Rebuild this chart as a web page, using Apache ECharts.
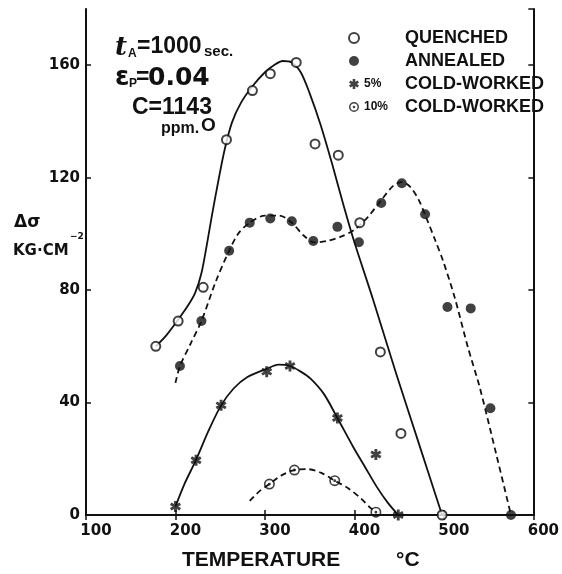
<!DOCTYPE html>
<html>
<head>
<meta charset="utf-8">
<script src="https://cdn.jsdelivr.net/npm/echarts@6/dist/echarts.min.js"></script>
<style>
html,body{margin:0;padding:0;background:#fff;}
#chart{width:562px;height:574px;}
</style>
</head>
<body>
<div id="chart"></div>
<script>
// axis ranges
var tempRange = [100, 600];
var sigmaRange = [0, 180];

// measured points: [temperature °C, delta sigma kg/cm2]
var quenchedPts = [[178,60],[203,69],[231,81],[257,133.5],[286,151],[306,157],[335,161],[356,132],[382,128],[406,104],[429,58],[452,29],[498,0]];
var annealedPts = [[205,53],[229,69],[260,94],[283,104],[306,105.5],[330,104.5],[354,97.5],[381,102.5],[405,97],[430,111],[453,118],[479,107],[504,74],[530,73.5],[552,38],[575,0]];
var cw5Pts = [[200,3],[223,19.5],[251,39],[302,51],[328,53],[381,34.5],[424,21.5],[449,0]];
var cw10Pts = [[305,11],[333,16],[378,12.2],[424,1]];

// hand drawn curves
var quenchedCurve = [[178,60],[190,64],[203,69.5],[214,74.5],[222,79],[229,86],[235,96],[241,107],[248,119],[255,130],[263,139.5],[273,146.5],[286,152.5],[300,157.5],[310,160],[320,161.5],[330,161],[340,157.5],[350,150],[362,139],[375,125],[388,110],[400,97],[421,76.5],[447,50],[473,24.5],[498,0]];
var annealedCurve = [[200,47],[205,53],[217,61],[229,69],[245,83],[260,94],[270,100],[283,104],[300,106.5],[316,106.5],[330,104],[343,99.5],[355,97],[370,97.5],[385,99],[400,101.5],[415,106],[430,112],[443,117],[453,118.5],[463,116.5],[472,112],[480,106],[490,98],[499,90.5],[512,77.5],[527,59.5],[540,45.5],[559,21],[575,0]];
var cw5Curve = [[200,3],[210,11],[223,19.6],[237,30],[251,39],[265,45],[280,49],[302,52],[315,53.5],[328,53],[340,51],[351,48.5],[366,43],[381,34.5],[399,24],[412,17],[425,10],[437,4.5],[449,0]];
var cw10Curve = [[283,5],[294,8.5],[305,11],[318,14],[333,16],[348,16.3],[363,15],[378,12.2],[393,9.5],[407,6],[418,2.5],[424,0.8]];

var legendNames = ['QUENCHED', 'ANNEALED', '5% COLD-WORKED', '10% COLD-WORKED'];

var ink = '#111';
var starPath = 'path://M-1.3,-5L1.3,-5L1.3,5L-1.3,5Z M-4.98,-1.37L-3.68,-3.62L4.98,1.37L3.68,3.62Z M3.68,-3.62L4.98,-1.37L-3.68,3.62L-4.98,1.37Z';
var ringPath = 'path://M0,-5A5,5 0 1,1 0,5A5,5 0 1,1 0,-5Z M0,-3.5A3.5,3.5 0 1,0 0,3.5A3.5,3.5 0 1,0 0,-3.5Z M0,-1.3A1.3,1.3 0 1,1 0,1.3A1.3,1.3 0 1,1 0,-1.3Z';

function txt(text, x, y, font) {
    return {type: 'text', x: x, y: y, z: 10,
        style: {text: text, font: font, fill: ink, align: 'left', verticalAlign: 'middle'}};
}

function curve(name, data, dashed) {
    return {
        name: name, type: 'line', data: data, smooth: 0.3, symbol: 'none', silent: true,
        lineStyle: {color: ink, width: 1.8, type: dashed ? [6, 4] : 'solid'},
        z: 2
    };
}

var axisLine = {show: true, lineStyle: {color: ink, width: 2}};
var tickIn = {show: true, inside: true, length: 5, lineStyle: {color: ink, width: 1.5}};
var tickFont = {color: ink, fontFamily: '"DejaVu Sans"', fontWeight: 'bold', fontSize: 15};

var myChart = echarts.init(document.getElementById('chart'));

var option = {
    backgroundColor: '#fff',
    animation: false,
    grid: {left: 86, right: 28, top: 9, bottom: 59},
    xAxis: [
        {type: 'value', min: tempRange[0], max: tempRange[1], interval: 100, position: 'bottom',
         axisLine: axisLine, axisTick: tickIn, splitLine: {show: false},
         axisLabel: Object.assign({margin: 9, padding: [0, 0, 0, 20]}, tickFont)},
        {type: 'value', min: tempRange[0], max: tempRange[1], interval: 100, position: 'top',
         axisLine: axisLine, axisTick: tickIn, splitLine: {show: false}, axisLabel: {show: false}}
    ],
    yAxis: [
        {type: 'value', min: sigmaRange[0], max: sigmaRange[1], interval: 40, position: 'left',
         axisLine: axisLine, axisTick: tickIn, splitLine: {show: false},
         axisLabel: Object.assign({margin: 6, showMaxLabel: false}, tickFont)},
        {type: 'value', min: sigmaRange[0], max: sigmaRange[1], interval: 40, position: 'right',
         axisLine: axisLine, axisTick: tickIn, splitLine: {show: false}, axisLabel: {show: false}}
    ],
    legend: {
        data: legendNames,
        orient: 'vertical', left: 343, top: 24,
        itemWidth: 10, itemHeight: 10, itemGap: 5,
        selectedMode: false,
        formatter: function (name) {
            var sp = name.indexOf(' ');
            var pre = name.charAt(0) >= '0' && name.charAt(0) <= '9' ? name.slice(0, sp) : ' ';
            var rest = pre === ' ' ? name : name.slice(sp + 1);
            return '{s|' + pre + '}{b|' + rest + '}';
        },
        textStyle: {
            rich: {
                s: {width: 41, fontSize: 12, fontWeight: 'bold', fontFamily: '"Liberation Sans"', color: ink, lineHeight: 21},
                b: {fontSize: 18, fontWeight: 'bold', fontFamily: '"Liberation Sans"', color: ink, lineHeight: 21}
            }
        }
    },
    graphic: [
        txt('t', 115, 48, 'bold italic 26px "DejaVu Serif"'),
        txt('A', 128, 54, 'bold 12px "Liberation Sans"'),
        txt('=1000', 137, 47, 'bold 23px "Liberation Sans"'),
        txt('sec.', 204, 52, 'bold 15px "Liberation Sans"'),
        txt('ε', 115, 78, 'bold 26px "DejaVu Sans"'),
        txt('P', 129, 84, 'bold 12px "Liberation Sans"'),
        txt('=', 136, 78, 'bold 23px "Liberation Sans"'),
        txt('0.04', 148, 78, 'bold 25px "DejaVu Sans"'),
        txt('C=1143', 132, 108, 'bold 23px "Liberation Sans"'),
        txt('ppm.', 161, 129, 'bold 16px "Liberation Sans"'),
        txt('O', 201, 126, 'bold 19px "Liberation Sans"'),
        txt('Δσ', 14, 223, 'bold 17px "DejaVu Sans"'),
        txt('KG·CM', 13, 251, 'bold 15px "DejaVu Sans"'),
        txt('−2', 70, 237, 'bold 9px "DejaVu Sans"'),
        txt('TEMPERATURE', 182, 560, 'bold 21px "Liberation Sans"'),
        txt('°C', 396, 560, 'bold 21px "Liberation Sans"')
    ],
    series: [
        curve('qCurve', quenchedCurve, false),
        curve('aCurve', annealedCurve, true),
        curve('c5Curve', cw5Curve, false),
        curve('c10Curve', cw10Curve, true),
        {name: legendNames[0], type: 'scatter', data: quenchedPts, symbol: 'emptyCircle', symbolSize: 9,
         itemStyle: {color: ink, borderColor: ink, borderWidth: 1.5}, z: 5},
        {name: legendNames[1], type: 'scatter', data: annealedPts, symbol: 'circle', symbolSize: 10,
         itemStyle: {color: ink}, z: 5},
        {name: legendNames[2], type: 'scatter', data: cw5Pts, symbol: starPath, symbolSize: 11,
         itemStyle: {color: ink}, z: 5},
        {name: legendNames[3], type: 'scatter', data: cw10Pts, symbol: ringPath, symbolSize: 11,
         itemStyle: {color: ink}, z: 5}
    ]
};

myChart.setOption(option);
</script>
</body>
</html>
